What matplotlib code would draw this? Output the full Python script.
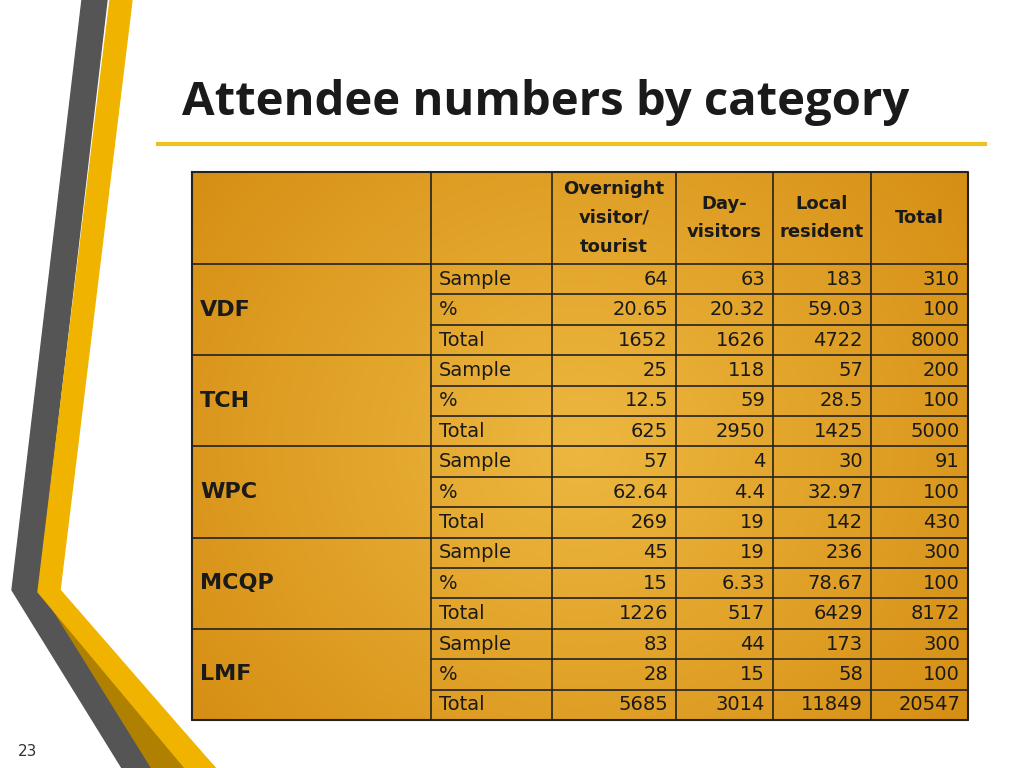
import numpy as np
import matplotlib
matplotlib.use("Agg")
import matplotlib.pyplot as plt
from matplotlib.patches import Polygon

title = "Attendee numbers by category"
headers = ["Overnight\nvisitor/\ntourist", "Day-\nvisitors", "Local\nresident", "Total"]
groups = ["VDF", "TCH", "WPC", "MCQP", "LMF"]
row_labels = ["Sample", "%", "Total"]
overnight = ["64", "20.65", "1652", "25", "12.5", "625", "57", "62.64", "269", "45", "15", "1226", "83", "28", "5685"]
day_visitors = ["63", "20.32", "1626", "118", "59", "2950", "4", "4.4", "19", "19", "6.33", "517", "44", "15", "3014"]
local_resident = ["183", "59.03", "4722", "57", "28.5", "1425", "30", "32.97", "142", "236", "78.67", "6429", "173", "58", "11849"]
total = ["310", "100", "8000", "200", "100", "5000", "91", "100", "430", "300", "100", "8172", "300", "100", "20547"]
page = "23"

fig = plt.figure(figsize=(10.24, 7.68), dpi=100)
ax = fig.add_axes([0, 0, 1, 1])
ax.set_xlim(0, 1024); ax.set_ylim(768, 0); ax.axis("off")

# decoration
ax.add_patch(Polygon([(82,0),(107,0),(38,588),(150,768),(122,768),(12,590)], closed=True, color="#555555", zorder=1))
ax.add_patch(Polygon([(110,0),(132,0),(60,590),(215,768),(185,768),(38,592)], closed=True, color="#f0b400", zorder=1))
ax.add_patch(Polygon([(40,594),(60,594),(215,768),(150,768)], closed=True, color="#b08000", zorder=0.9))

ax.text(182, 103, title, fontsize=34, fontweight="bold", family="Open Sans", va="center", ha="left", color="#1a1a1a")
ax.plot([158, 985], [144, 144], color="#f0c020", lw=3)
ax.text(18, 752, page, fontsize=11, color="#333333", va="center")

# table background gradient
x0, x1, y0, y1 = 192, 968, 172, 720
yy, xx = np.mgrid[0:1:200j, 0:1:300j]
r = np.sqrt((xx-0.5)**2 + ((yy-0.5)*0.75)**2) / 0.62
c_in = np.array([0.93, 0.72, 0.25]); c_out = np.array([0.84, 0.56, 0.08])
img = c_in + (c_out - c_in) * np.clip(r, 0, 1)[..., None]
ax.imshow(img, extent=(x0, x1, y1, y0), aspect="auto", zorder=2)

cols = [192, 431, 552, 676, 773, 871, 968]
hdr_b = 264
rh = (y1 - hdr_b) / 15
lc = "#222222"
ax.plot([x0, x1, x1, x0, x0], [y0, y0, y1, y1, y0], color=lc, lw=1.5, zorder=4)
for c in cols[1:-1]:
    ax.plot([c, c], [y0, y1], color=lc, lw=1.2, zorder=4)
for i in range(16):
    y = hdr_b + i * rh
    xs = x0 if i % 3 == 0 else cols[1]
    ax.plot([xs, x1], [y, y], color=lc, lw=1.2, zorder=4)

fs = 14
for j, h in enumerate(headers):
    ax.text((cols[j+2]+cols[j+3])/2, (y0+hdr_b)/2, h, ha="center", va="center", fontsize=fs-1,
            fontweight="bold", linespacing=1.75, color="#1a1a1a", zorder=5)
series = [overnight, day_visitors, local_resident, total]
for g, name in enumerate(groups):
    ax.text(200, hdr_b + (g*3+1.5)*rh, name, fontsize=fs+2, fontweight="bold", va="center", color="#1a1a1a", zorder=5)
for i in range(15):
    yc = hdr_b + (i+0.5)*rh
    ax.text(439, yc, row_labels[i % 3], fontsize=fs, va="center", color="#1a1a1a", zorder=5)
    for j, s in enumerate(series):
        ax.text(cols[j+3]-8, yc, s[i], fontsize=fs, va="center", ha="right", color="#1a1a1a", zorder=5)

fig.savefig("out.png", dpi=100)
